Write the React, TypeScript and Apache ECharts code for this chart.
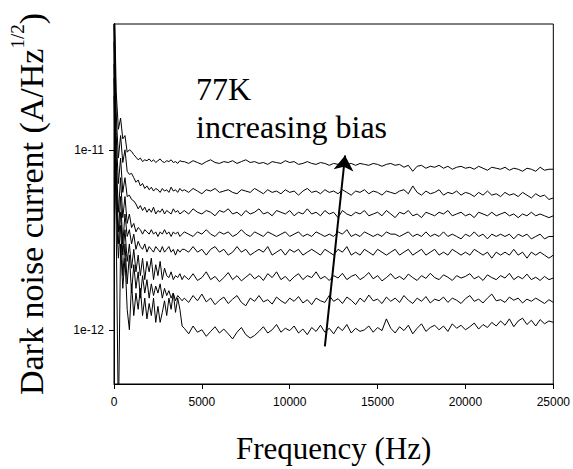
import React, { useEffect, useRef } from "react";
import * as echarts from "echarts";

// Frequency grid (Hz)
const FREQ = [
  0, 125, 250, 375, 500, 625, 750, 875, 1000, 1125, 1250, 1375, 1500, 1625, 1750, 1875,
  2000, 2125, 2250, 2375, 2500, 2625, 2750, 2875, 3000, 3125, 3250, 3375, 3500, 3625, 3750, 3875,
  4000, 4250, 4500, 4750, 5000, 5250, 5500, 5750, 6000, 6250, 6500, 6750, 7000, 7250, 7500, 7750,
  8000, 8250, 8500, 8750, 9000, 9250, 9500, 9750, 10000, 10250, 10500, 10750, 11000, 11250, 11500, 11750,
  12000, 12250, 12500, 12750, 13000, 13250, 13500, 13750, 14000, 14250, 14500, 14750, 15000, 15250, 15500, 15750,
  16000, 16250, 16500, 16750, 17000, 17250, 17500, 17750, 18000, 18250, 18500, 18750, 19000, 19250, 19500, 19750,
  20000, 20250, 20500, 20750, 21000, 21250, 21500, 21750, 22000, 22250, 22500, 22750, 23000, 23250, 23500, 23750,
  24000, 24250, 24500, 24750, 25000,
];

// Dark noise current, in units of 1e-12 A/Hz^1/2 (highest bias first)
const BIAS_8 = [
  90, 21, 13, 15, 11.5, 12, 9.7, 10, 9.8, 9.4, 9.1, 8.8, 9.0, 8.6, 8.8, 8.7,
  8.9, 8.6, 8.8, 8.5, 8.7, 8.9, 8.6, 8.5, 8.7, 8.6, 8.8, 8.5, 8.6, 8.4, 8.7, 8.6,
  8.6, 8.4, 8.7, 8.5, 8.3, 8.6, 8.8, 8.5, 8.4, 8.6, 8.5, 8.7, 8.4, 8.6, 8.8, 8.5,
  8.6, 8.4, 8.5, 8.3, 8.6, 8.5, 8.4, 8.7, 8.5, 8.6, 8.3, 8.4, 8.6, 8.4, 8.3, 8.5,
  8.4, 8.2, 8.4, 8.3, 8.5, 8.3, 8.4, 8.2, 8.4, 8.3, 8.2, 8.4, 8.3, 8.1, 8.3, 8.4,
  8.2, 8.3, 8.0, 8.2, 7.6, 8.1, 8.2, 7.9, 8.1, 8.0, 8.2, 7.9, 8.1, 7.8, 8.0, 8.1,
  7.9, 8.0, 7.8, 8.1, 7.9, 7.7, 8.0, 7.9, 7.8, 8.0, 7.7, 7.9, 7.8, 7.6, 7.9, 7.8,
  7.6, 8.0, 7.7, 7.8, 7.8,
];
const BIAS_7 = [
  70, 16, 9, 12, 8.5, 10, 7.6, 7.3, 7.4, 7.0, 6.6, 6.8, 6.3, 6.5, 6.1, 6.3,
  6.0, 6.2, 5.9, 6.1, 6.0, 5.8, 6.1, 5.9, 6.0, 5.8, 6.2, 5.9, 6.0, 5.8, 6.1, 5.9,
  6.0, 5.8, 6.1, 5.9, 5.7, 6.0, 5.9, 6.1, 5.8, 5.9, 6.0, 5.8, 5.7, 6.0, 5.9, 5.8,
  6.1, 5.9, 5.7, 6.0, 5.8, 5.9, 5.7, 6.0, 5.8, 5.9, 5.6, 5.9, 6.1, 5.8, 5.9, 5.7,
  6.0, 5.8, 5.9, 5.7, 6.0, 5.8, 5.6, 5.9, 5.8, 6.0, 5.7, 5.9, 5.8, 5.6, 5.9, 5.8,
  5.7, 5.9, 6.0, 5.7, 6.3, 5.8, 5.6, 5.9, 5.7, 5.8, 6.0, 5.6, 5.8, 5.7, 5.9, 5.6,
  5.8, 5.7, 5.5, 5.8, 5.6, 5.9, 5.6, 5.7, 5.5, 5.8, 5.6, 5.7, 5.5, 5.8, 5.6, 5.4,
  5.7, 5.5, 5.6, 5.3, 5.4,
];
const BIAS_6 = [
  60, 12, 6.5, 9, 5.8, 7, 5.5, 5.6, 5.3, 5.2, 5.0, 4.7, 4.9, 4.6, 4.8, 4.5,
  4.7, 4.5, 4.8, 4.4, 4.6, 4.5, 4.7, 4.4, 4.6, 4.5, 4.4, 4.7, 4.5, 4.6, 4.4, 4.5,
  4.6, 4.4, 4.7, 4.5, 4.4, 4.6, 4.5, 4.3, 4.6, 4.5, 4.7, 4.4, 4.5, 4.3, 4.6, 4.4,
  4.5, 4.7, 4.4, 4.5, 4.3, 4.6, 4.5, 4.4, 4.6, 4.3, 4.5, 4.4, 4.7, 4.4, 4.5, 4.3,
  4.6, 4.4, 4.5, 4.2, 4.6, 4.4, 4.3, 4.5, 4.4, 4.6, 4.3, 4.4, 4.5, 4.3, 4.6, 4.4,
  4.2, 4.5, 4.4, 4.6, 4.3, 4.4, 4.2, 4.5, 4.4, 4.3, 4.5, 4.4, 4.6, 4.3, 4.4, 4.5,
  4.3, 4.4, 4.2, 4.5, 4.4, 4.3, 4.5, 4.3, 4.4, 4.5, 4.3, 4.4, 4.2, 4.4, 4.3, 4.5,
  4.3, 4.4, 4.3, 4.2, 4.3,
];
const BIAS_5 = [
  50, 9, 4.5, 7, 4.2, 5.5, 3.9, 4.4, 3.7, 3.9, 3.5, 3.7, 3.6, 3.4, 3.6, 3.5,
  3.4, 3.6, 3.4, 3.5, 3.3, 3.5, 3.4, 3.6, 3.4, 3.5, 3.3, 3.5, 3.4, 3.5, 3.3, 3.4,
  3.5, 3.4, 3.3, 3.5, 3.4, 3.6, 3.4, 3.3, 3.5, 3.4, 3.5, 3.3, 3.4, 3.6, 3.4, 3.3,
  3.5, 3.4, 3.3, 3.5, 3.4, 3.3, 3.4, 3.5, 3.3, 3.4, 3.5, 3.3, 3.4, 3.3, 3.5, 3.4,
  3.3, 3.4, 3.3, 3.5, 3.4, 3.6, 3.3, 3.4, 3.3, 3.5, 3.4, 3.3, 3.4, 3.3, 3.5, 3.4,
  3.4, 3.3, 3.4, 3.5, 3.3, 3.4, 3.3, 3.5, 3.3, 3.4, 3.3, 3.5, 3.3, 3.4, 3.3, 3.2,
  3.4, 3.3, 3.5, 3.3, 3.4, 3.2, 3.4, 3.3, 3.4, 3.3, 3.4, 3.2, 3.4, 3.3, 3.4, 3.2,
  3.3, 3.4, 3.2, 3.3, 3.3,
];
const BIAS_4 = [
  40, 7.5, 3.5, 5.5, 3.0, 4.4, 3.3, 3.6, 3.0, 3.4, 2.8, 3.1, 2.9, 2.8, 3.0, 2.7,
  2.9, 2.8, 2.7, 2.9, 2.8, 2.7, 2.9, 2.7, 2.8, 2.9, 2.7, 2.8, 2.6, 2.8, 2.7, 2.8,
  2.8, 2.7, 2.9, 2.7, 2.8, 2.6, 2.8, 2.9, 2.7, 2.8, 2.6, 2.7, 2.9, 2.7, 2.8, 2.6,
  2.7, 2.8, 2.7, 2.9, 2.6, 2.7, 2.8, 2.6, 2.8, 2.7, 2.8, 2.6, 2.7, 2.8, 2.7, 2.6,
  2.8, 2.7, 2.6, 2.8, 2.7, 2.9, 2.6, 2.7, 2.6, 2.8, 2.7, 2.6, 2.8, 2.7, 2.6, 2.7,
  2.8, 2.6, 2.7, 2.8, 2.6, 2.7, 2.8, 2.6, 2.7, 2.8, 2.6, 2.7, 2.6, 2.8, 2.7, 2.6,
  2.7, 2.6, 2.8, 2.7, 2.6, 2.7, 2.5, 2.7, 2.6, 2.7, 2.6, 2.8, 2.6, 2.7, 2.5, 2.7,
  2.6, 2.7, 2.6, 2.5, 2.6,
];
const BIAS_3 = [
  30, 6, 3.0, 4.5, 2.6, 3.6, 2.4, 3.0, 2.2, 2.8, 2.1, 2.6, 2.0, 2.5, 1.9, 2.4,
  2.1, 2.5, 1.9, 2.3, 2.0, 2.4, 1.9, 2.2, 2.0, 1.95, 2.1, 1.9, 2.0, 1.95, 2.05, 1.9,
  2.0, 1.9, 2.05, 1.88, 1.95, 2.1, 1.9, 1.98, 1.85, 1.95, 2.08, 1.9, 2.0, 1.87, 1.96, 2.05,
  1.92, 2.0, 1.88, 2.05, 1.95, 2.1, 1.9, 1.98, 1.86, 1.97, 2.05, 1.9, 2.0, 1.95, 2.1, 1.92,
  1.98, 1.88, 2.0, 1.94, 2.06, 1.9, 1.98, 2.03, 1.9, 1.97, 2.08, 1.92, 2.0, 1.87, 1.95, 2.05,
  1.92, 1.98, 1.9, 2.04, 1.95, 1.88, 2.0, 1.93, 2.06, 1.95, 1.9, 2.02, 1.96, 1.88, 2.0, 1.94,
  1.98, 2.05, 1.92, 1.98, 1.88, 2.02, 1.95, 1.9, 2.0, 1.94, 2.06, 1.9, 1.98, 1.92, 2.04, 1.9,
  1.96, 1.88, 1.98, 1.9, 1.94,
];
const BIAS_2 = [
  25, 4.8, 2.5, 3.8, 2.0, 3.0, 1.8, 2.6, 1.6, 2.3, 1.7, 2.1, 1.5, 2.0, 1.6, 1.9,
  1.5, 1.8, 1.55, 1.75, 1.6, 1.8, 1.5, 1.7, 1.55, 1.65, 1.5, 1.6, 1.45, 1.55, 1.5, 1.45,
  1.5, 1.42, 1.55, 1.45, 1.58, 1.43, 1.5, 1.38, 1.46, 1.52, 1.4, 1.48, 1.55, 1.42, 1.36, 1.5,
  1.44, 1.55, 1.43, 1.47, 1.39, 1.52, 1.45, 1.4, 1.5, 1.44, 1.53, 1.41, 1.47, 1.38, 1.5, 1.45,
  1.42, 1.55, 1.44, 1.49, 1.4, 1.52, 1.46, 1.38, 1.5, 1.43, 1.56, 1.45, 1.48, 1.4, 1.52, 1.44,
  1.5, 1.42, 1.55, 1.46, 1.4, 1.5, 1.44, 1.53, 1.41, 1.48, 1.45, 1.52, 1.42, 1.5, 1.46, 1.4,
  1.49, 1.55, 1.44, 1.48, 1.41, 1.5, 1.58, 1.45, 1.47, 1.42, 1.52, 1.46, 1.5, 1.41, 1.48, 1.44,
  1.5, 1.45, 1.4, 1.47, 1.42,
];
const BIAS_1 = [
  20, 3.8, 0.3, 3.0, 1.7, 2.5, 1.3, 1.0, 1.8, 1.2, 1.6, 1.3, 1.7, 1.2, 1.5, 1.15,
  1.4, 1.2, 1.5, 1.1, 1.35, 1.1, 1.25, 1.45, 1.2, 1.5, 1.3, 1.6, 1.25, 1.5, 1.3, 1.05,
  1.02, 0.95, 1.05, 0.97, 1.0, 0.92, 0.98, 1.04, 0.96, 1.01, 0.95, 0.89, 0.97, 1.03, 0.94, 0.9,
  0.93, 0.98, 1.04, 0.96, 1.0, 1.07, 0.97, 1.02, 0.99, 1.05, 0.96, 1.01, 0.94, 1.03, 0.98, 1.06,
  0.97, 1.02, 0.95, 1.04, 0.99, 1.07, 0.96, 1.02, 0.98, 1.0, 1.05, 0.97, 1.03, 0.99, 1.15, 1.02,
  0.96, 1.04, 0.99, 1.06, 0.95, 1.02, 1.08, 0.98, 1.03, 1.06, 1.0, 1.05, 0.98, 1.08, 1.02, 1.06,
  1.0, 1.04, 1.09, 1.01, 1.07, 1.03, 1.1, 1.05, 1.12, 1.06, 1.15, 1.04, 1.12, 1.16, 1.07, 1.13,
  1.05, 1.14, 1.08, 1.12, 1.1,
];

const SERIES_VALUES = [BIAS_8, BIAS_7, BIAS_6, BIAS_5, BIAS_4, BIAS_3, BIAS_2, BIAS_1];
const VALUE_UNIT = 1e-12;

const X_MIN = 0;
const X_MAX = 25000;
const X_INTERVAL = 5000;
const Y_MIN = 5e-13;
const Y_MAX = 5e-11;

// Arrow annotation endpoints [frequency, current]
const ARROW_START = [12000, 8.1e-13];
const ARROW_END = [13150, 9.3e-12];

const ANNOT_LINE_1 = "77K";
const ANNOT_LINE_2 = "increasing bias";

const SERIF = "'Liberation Serif', 'Times New Roman', serif";
const SANS = "'Liberation Sans', Arial, sans-serif";

export default function App() {
  const ref = useRef<HTMLDivElement>(null);

  useEffect(() => {
    if (!ref.current) return;
    const chart = echarts.init(ref.current, null, { renderer: "svg" });

    const series: any[] = SERIES_VALUES.map((vals, i) => ({
      type: "line",
      name: `bias ${i + 1}`,
      data: FREQ.map((f, j) => [f, vals[j] * VALUE_UNIT]),
      showSymbol: false,
      symbol: "none",
      lineStyle: { color: "#000", width: 1 },
      clip: true,
      silent: true,
      z: 2,
    }));

    series.push({
      type: "line",
      name: "arrow",
      data: [],
      silent: true,
      markLine: {
        silent: true,
        symbol: ["none", "arrow"],
        symbolSize: 15,
        label: { show: false },
        emphasis: { disabled: true },
        lineStyle: { color: "#000", width: 2, type: "solid" },
        itemStyle: { color: "#000" },
        data: [[{ coord: ARROW_START }, { coord: ARROW_END }]],
      },
    });

    chart.setOption({
      animation: false,
      backgroundColor: "#fff",
      grid: {
        left: 103,
        right: 18,
        top: 24,
        bottom: 77,
        show: true,
        borderColor: "#000",
        borderWidth: 1,
        backgroundColor: "transparent",
      },
      xAxis: {
        type: "value",
        min: X_MIN,
        max: X_MAX,
        interval: X_INTERVAL,
        name: "Frequency (Hz)",
        nameLocation: "middle",
        nameGap: 49,
        nameTextStyle: { fontFamily: SERIF, fontSize: 31, color: "#000" },
        axisLine: { show: true, lineStyle: { color: "#000", width: 1 } },
        axisTick: { show: true, inside: false, length: 5, lineStyle: { color: "#000" } },
        axisLabel: {
          fontFamily: SANS,
          fontSize: 12,
          color: "#000",
          margin: 12,
          formatter: (v: number) => String(v),
        },
        splitLine: { show: false },
      },
      yAxis: {
        type: "log",
        logBase: 10,
        min: Y_MIN,
        max: Y_MAX,
        name: "{a|Dark noise current (A/Hz}{s|1/2}{a|)}",
        nameLocation: "middle",
        nameRotate: 90,
        nameGap: 66,
        nameTextStyle: {
          color: "#000",
          rich: {
            a: { fontFamily: SERIF, fontSize: 34, color: "#000", lineHeight: 40, verticalAlign: "bottom" },
            s: { fontFamily: SERIF, fontSize: 19, color: "#000", lineHeight: 40, verticalAlign: "top" },
          },
        },
        axisLine: { show: true, lineStyle: { color: "#000", width: 1 } },
        axisTick: { show: true, inside: false, length: 5, lineStyle: { color: "#000" } },
        axisLabel: {
          fontFamily: SANS,
          fontSize: 12,
          color: "#000",
          margin: 10,
          showMinLabel: false,
          showMaxLabel: false,
          formatter: (v: number) => {
            const e = Math.log10(v);
            const r = Math.round(e);
            return Math.abs(e - r) < 1e-6 ? `1e${r}` : "";
          },
        },
        splitLine: { show: false },
        minorTick: { show: false },
      },
      graphic: [
        {
          type: "text",
          left: 196,
          top: 73,
          silent: true,
          style: { text: ANNOT_LINE_1, fontFamily: SERIF, fontSize: 32, fill: "#000" },
        },
        {
          type: "text",
          left: 196,
          top: 111,
          silent: true,
          style: { text: ANNOT_LINE_2, fontFamily: SERIF, fontSize: 32, fill: "#000" },
        },
      ],
      series,
    });

    return () => chart.dispose();
  }, []);

  return (
    <div
      ref={ref}
      style={{ position: "fixed", left: 0, top: 0, width: 573, height: 469, background: "#fff" }}
    />
  );
}
